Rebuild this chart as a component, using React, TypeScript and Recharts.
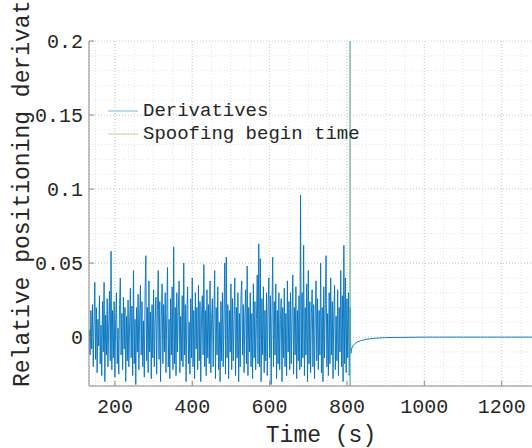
import { LineChart, Line, XAxis, YAxis, CartesianGrid, ReferenceLine, Legend } from 'recharts'

// samples every 2 s from t = 134 to t = 808 (before spoofing)
const noiseStart = 134
const noiseStep = 2
const noiseValues = [
  0.005, -0.012, 0.018, -0.008, 0.022, -0.02, 0.01, 0.037, -0.015, 0.02,
  -0.024, 0.012, -0.006, 0.028, -0.018, 0.008, -0.026, 0.024, -0.01, 0.037,
  -0.03, 0.015, -0.012, 0.026, -0.02, 0.009, 0.031, -0.016, 0.058, -0.022,
  0.018, -0.014, 0.024, -0.027, 0.012, 0.03, -0.018, 0.006, -0.025, 0.022,
  0.04, -0.012, 0.016, -0.022, 0.027, -0.008, 0.02, -0.03, 0.014, -0.016,
  0.025, -0.02, 0.009, 0.033, -0.014, 0.021, -0.026, 0.045, -0.018, 0.012,
  -0.032, 0.02, -0.01, 0.029, -0.022, 0.015, 0.035, -0.012, 0.024, -0.02,
  0.011, -0.027, 0.03, 0.055, -0.016, 0.02, -0.024, 0.038, -0.01, 0.017,
  -0.028, 0.022, -0.014, 0.032, -0.02, 0.012, 0.027, -0.025, 0.018, 0.045,
  -0.015, 0.024, -0.03, 0.014, 0.036, -0.018, 0.022, -0.01, 0.03, -0.024,
  0.016, 0.047, -0.02, 0.012, -0.028, 0.026, -0.012, 0.034, -0.022, 0.061,
  -0.018, 0.02, -0.026, 0.03, -0.01, 0.018, 0.038, -0.024, 0.014, -0.016,
  0.028, -0.02, 0.05, -0.012, 0.022, -0.03, 0.016, 0.034, -0.018, 0.01,
  -0.025, 0.026, -0.014, 0.04, -0.02, 0.018, -0.028, 0.03, -0.008, 0.02,
  -0.022, 0.035, -0.016, 0.024, -0.03, 0.014, 0.028, -0.012, 0.049, -0.02,
  0.018, -0.026, 0.032, -0.014, 0.022, -0.018, 0.038, -0.024, 0.012, 0.026,
  -0.02, 0.016, 0.045, -0.028, 0.02, -0.012, 0.034, -0.022, 0.01, -0.03,
  0.024, -0.016, 0.03, -0.02, 0.014, 0.05, -0.025, 0.054, -0.014, 0.022,
  -0.028, 0.018, -0.01, 0.036, -0.022, 0.026, -0.016, 0.012, 0.04, -0.026,
  0.02, -0.014, 0.03, -0.03, 0.016, -0.02, 0.028, 0.038, -0.012, 0.022,
  -0.024, 0.014, 0.032, -0.018, 0.048, -0.026, 0.02, -0.01, 0.03, -0.02,
  0.016, -0.028, 0.036, -0.014, 0.024, -0.022, 0.012, 0.042, -0.018, 0.063,
  -0.02, 0.053, -0.03, 0.026, -0.012, 0.034, -0.024, 0.018, -0.016, 0.03,
  -0.026, 0.02, 0.04, -0.014, 0.028, -0.032, 0.016, 0.054, -0.02, 0.024,
  -0.012, 0.036, -0.028, 0.018, -0.018, 0.03, -0.022, 0.012, 0.026, -0.03,
  0.02, -0.014, 0.033, -0.02, 0.016, -0.026, 0.038, -0.01, 0.024, -0.022,
  0.03, -0.018, 0.014, 0.042, -0.025, 0.02, -0.012, 0.034, -0.028, 0.018,
  -0.016, 0.028, -0.022, 0.096, -0.02, 0.03, -0.014, 0.062, -0.026, 0.02,
  -0.012, 0.036, -0.03, 0.045, -0.018, 0.024, -0.024, 0.016, 0.032, -0.02,
  0.022, -0.028, 0.014, 0.038, -0.016, 0.026, -0.022, 0.018, -0.012, 0.05,
  -0.024, 0.02, -0.03, 0.034, -0.014, 0.022, 0.055, -0.02, 0.016, -0.026,
  0.03, -0.018, 0.04, -0.012, 0.024, -0.028, 0.018, 0.035, -0.022, 0.014,
  -0.016, 0.032, -0.026, 0.02, -0.01, 0.045, -0.02, 0.028, -0.03, 0.062,
  -0.018, 0.04, -0.024, 0.026, -0.014, 0.03, -0.026, 0.02,
]

// after spoofing begins the derivative collapses to ~0
const afterTimes = [810, 812, 815, 820, 826, 835, 850, 870, 900, 1000, 1200, 1400]
const afterValues = [-0.011, -0.008, -0.006, -0.0045, -0.0033, -0.0024, -0.0015, -0.0008, -0.0003, 0, 0, 0]

const spoofTime = 808
const xTicks = [200, 400, 600, 800, 1000, 1200]
const yTicks = [0, 0.05, 0.1, 0.15, 0.2]
const yTickLabels = ['0', '0.05', '0.1', '0.15', '0.2']

const minorX = Array.from({ length: 26 }, (_, i) => 150 + i * 50)
const minorY = Array.from({ length: 23 }, (_, i) => Math.round((-0.03 + i * 0.01) * 1000) / 1000)

const data = [
  ...noiseValues.map((d, i) => ({ t: noiseStart + i * noiseStep, d })),
  ...afterTimes.map((t, i) => ({ t, d: afterValues[i] })),
]

const FONT = '"Liberation Mono", "Courier New", monospace'
const TEXT = '#262626'
const AXIS = '#8a8a8a'

const renderLegend = () => (
  <svg width={300} height={50} style={{ display: 'block' }}>
    <line x1={8} x2={38} y1={16} y2={16} stroke="#8ec3ea" strokeWidth={1.2} />
    <text x={43} y={16} dominantBaseline="central" fontFamily={FONT} fontSize={19} fill={TEXT}>
      Derivatives
    </text>
    <line x1={8} x2={38} y1={39} y2={39} stroke="#c6dba2" strokeWidth={1.2} />
    <text x={43} y={39} dominantBaseline="central" fontFamily={FONT} fontSize={19} fill={TEXT}>
      Spoofing begin time
    </text>
  </svg>
)

export default function App() {
  return (
    <div style={{ position: 'fixed', left: 0, top: 0, width: 532, height: 448, overflow: 'hidden', background: '#fff' }}>
      <LineChart width={584} height={448} data={data} margin={{ top: 41, right: 5, bottom: 32, left: 29 }}>
        <CartesianGrid stroke="#e4e4e4" strokeDasharray="1 2" horizontalValues={minorY} verticalValues={minorX} />
        <CartesianGrid stroke="#cfcfcf" strokeDasharray="1 2" />
        <XAxis
          dataKey="t"
          type="number"
          domain={[133, 1400]}
          ticks={xTicks}
          interval={0}
          allowDataOverflow
          height={30}
          tickSize={-5}
          tickMargin={18}
          stroke={AXIS}
          tick={{ fill: TEXT, fontSize: 20, fontFamily: FONT }}
          label={{
            content: () => (
              <text x={321} y={442} textAnchor="middle" fontFamily={FONT} fontSize={23} fill={TEXT}>
                Time (s)
              </text>
            ),
          }}
        />
        <XAxis
          xAxisId="top"
          orientation="top"
          dataKey="t"
          type="number"
          domain={[133, 1400]}
          ticks={xTicks}
          interval={0}
          allowDataOverflow
          height={0}
          tickSize={-5}
          tick={false}
          stroke={AXIS}
        />
        <YAxis
          type="number"
          domain={[-0.033, 0.2]}
          ticks={yTicks}
          interval={0}
          allowDataOverflow
          width={60}
          tickSize={-5}
          tickMargin={11}
          stroke={AXIS}
          tickFormatter={(v: number) => yTickLabels[yTicks.indexOf(v)] ?? String(v)}
          tick={{ fill: TEXT, fontSize: 20, fontFamily: FONT }}
          label={{
            content: () => (
              <text x={29} y={387} transform="rotate(-90 29 387)" fontFamily={FONT} fontSize={23} fill={TEXT}>
                Relative positioning derivatives
              </text>
            ),
          }}
        />
        <Legend
          layout="vertical"
          align="center"
          verticalAlign="middle"
          content={renderLegend}
          wrapperStyle={{ left: 100, top: 95, width: 300, height: 50 }}
        />
        <Line
          type="linear"
          dataKey="d"
          stroke="#0072BD"
          strokeWidth={0.9}
          dot={false}
          isAnimationActive={false}
        />
        <ReferenceLine x={spoofTime} stroke="#62b48f" strokeWidth={1.3} />
      </LineChart>
    </div>
  )
}
